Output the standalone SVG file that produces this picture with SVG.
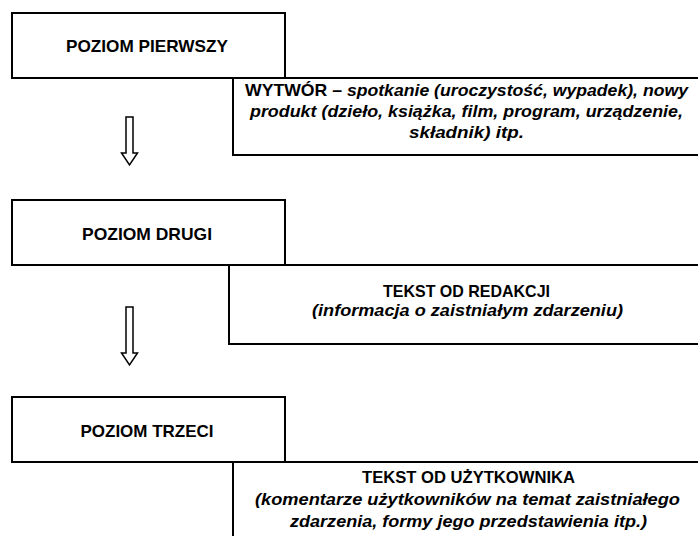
<svg xmlns="http://www.w3.org/2000/svg" width="698" height="536" viewBox="0 0 698 536">
  <style>
    .box { fill: #ffffff; stroke: #000000; stroke-width: 2; }
    .arrow { fill: #ffffff; stroke: #000000; stroke-width: 1.5; stroke-linejoin: miter; }
    text { font-family: "Liberation Sans", Arial, sans-serif; font-size: 17px; font-weight: bold; fill: #000000; text-anchor: middle; }
    .it { font-style: italic; }
  </style>
  <rect width="698" height="536" fill="#ffffff"/>

  <!-- Level 1 -->
  <g id="level1">
    <rect class="box" x="12" y="13" width="273" height="65"/>
    <text x="147" y="52" textLength="162" lengthAdjust="spacingAndGlyphs">POZIOM PIERWSZY</text>
  </g>
  <g id="product">
    <rect class="box" x="233" y="78" width="480" height="77"/>
    <text x="466.5" y="96" textLength="443" lengthAdjust="spacingAndGlyphs">WYTWÓR – <tspan class="it">spotkanie (uroczystość, wypadek), nowy</tspan></text>
    <text class="it" x="466.5" y="117" textLength="433" lengthAdjust="spacingAndGlyphs">produkt (dzieło, książka, film, program, urządzenie,</text>
    <text class="it" x="466.5" y="138" textLength="115" lengthAdjust="spacingAndGlyphs">składnik) itp.</text>
  </g>

  <!-- Level 2 -->
  <g id="level2">
    <rect class="box" x="12" y="200" width="273" height="65"/>
    <text x="147" y="240" textLength="130" lengthAdjust="spacingAndGlyphs">POZIOM DRUGI</text>
  </g>
  <g id="editorial">
    <rect class="box" x="229" y="265" width="484" height="79"/>
    <text x="466.5" y="297" textLength="167" lengthAdjust="spacingAndGlyphs">TEKST OD REDAKCJI</text>
    <text class="it" x="467.5" y="316" textLength="311" lengthAdjust="spacingAndGlyphs">(informacja o zaistniałym zdarzeniu)</text>
  </g>

  <!-- Level 3 -->
  <g id="level3">
    <rect class="box" x="12" y="397" width="273" height="65"/>
    <text x="147" y="437" textLength="133" lengthAdjust="spacingAndGlyphs">POZIOM TRZECI</text>
  </g>
  <g id="user">
    <rect class="box" x="233" y="462" width="480" height="90"/>
    <text x="468.5" y="483" textLength="213" lengthAdjust="spacingAndGlyphs">TEKST OD UŻYTKOWNIKA</text>
    <text class="it" x="467.5" y="505" textLength="425" lengthAdjust="spacingAndGlyphs">(komentarze użytkowników na temat zaistniałego</text>
    <text class="it" x="468.5" y="527" textLength="357" lengthAdjust="spacingAndGlyphs">zdarzenia, formy jego przedstawienia itp.)</text>
  </g>

  <!-- Connectors: hollow block arrows between levels -->
  <g id="connectors">
    <path class="arrow" d="M126,117 H133 V153 H137.5 L129.5,165 L121.5,153 H126 Z"/>
    <path class="arrow" d="M126,307 H133 V353 H137.5 L129.5,365 L121.5,353 H126 Z"/>
  </g>
</svg>
